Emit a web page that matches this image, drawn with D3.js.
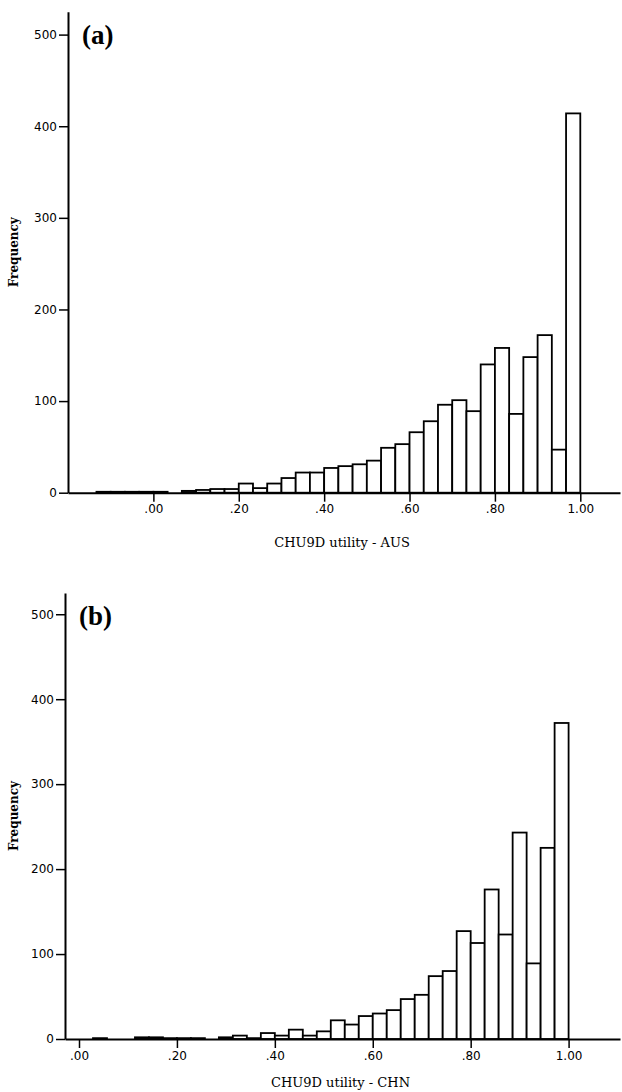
<!DOCTYPE html>
<html>
<head>
<meta charset="utf-8">
<script src="https://cdn.jsdelivr.net/npm/d3@7"></script>
<style>
  body { margin: 0; background: #fff; }
  svg { display: block; }
</style>
</head>
<body>
<div id="wrapper"></div>
<script>
// panel (a) - AUS: bins of width 1/30, first bin starts at -4/30
const ausBinWidth = 1 / 30;
const ausFirstBin = -4 / 30;
const ausCounts = [1, 1, 1, 1, 1, 0, 2, 3, 4, 4, 10, 5, 10, 16, 22, 22, 27, 29, 31, 35,
  49, 53, 66, 78, 96, 101, 89, 140, 158, 86, 148, 172, 47, 414];

// panel (b) - CHN: bins of width 1/35, first bin starts at 0
const chnBinWidth = 1 / 35;
const chnFirstBin = 0;
const chnCounts = [0, 1, 0, 0, 2, 2, 1, 1, 1, 0, 2, 4, 1, 7, 4, 11, 4, 9, 22, 17,
  27, 30, 34, 47, 52, 74, 80, 127, 113, 176, 123, 243, 89, 225, 372];

const xTicks = [0, 0.2, 0.4, 0.6, 0.8, 1.0];
const yTicks = [0, 100, 200, 300, 400, 500];

const width = 622;
const height = 1092;

const svg = d3.select("#wrapper").append("svg")
  .attr("width", width)
  .attr("height", height);

const fmtX = d => d3.format(".2f")(d).replace(/^0/, "");

function drawPanel(opts) {
  const xScale = d3.scaleLinear()
    .domain(opts.xDomain)
    .range([opts.left, opts.right]);
  const yScale = d3.scaleLinear()
    .domain([0, 525])
    .range([opts.bottom, opts.top]);

  const bins = opts.counts.map((c, i) => ({
    x0: opts.firstBin + i * opts.binWidth,
    x1: opts.firstBin + (i + 1) * opts.binWidth,
    count: c,
  })).filter(d => d.count > 0);

  const g = svg.append("g");

  g.selectAll("rect.bar")
    .data(bins)
    .join("rect")
    .attr("class", "bar")
    .attr("x", d => xScale(d.x0))
    .attr("width", d => xScale(d.x1) - xScale(d.x0))
    .attr("y", d => yScale(d.count))
    .attr("height", d => yScale(0) - yScale(d.count))
    .attr("fill", "#fff")
    .attr("stroke", "#000")
    .attr("stroke-width", 1.8);

  const yAxis = g.append("g")
    .attr("transform", `translate(${opts.left},0)`)
    .call(d3.axisLeft(yScale).tickValues(yTicks).tickSize(9).tickSizeOuter(0).tickPadding(2));

  const xAxis = g.append("g")
    .attr("transform", `translate(0,${opts.bottom})`)
    .call(d3.axisBottom(xScale).tickValues(xTicks).tickFormat(fmtX).tickSize(9).tickSizeOuter(0).tickPadding(3));

  [yAxis, xAxis].forEach(ax => {
    ax.select(".domain").attr("stroke-width", 2);
    ax.selectAll(".tick line").attr("stroke-width", 1.5);
    ax.selectAll("text")
      .attr("font-family", "DejaVu Sans, sans-serif")
      .attr("font-size", 12)
      .attr("fill", "#000");
  });

  g.append("text")
    .attr("x", opts.left + 14)
    .attr("y", opts.top + 32)
    .attr("font-family", "Liberation Serif, Times New Roman, serif")
    .attr("font-weight", "bold")
    .attr("font-size", 27)
    .text(opts.tag);

  g.append("text")
    .attr("transform", `translate(${opts.left - opts.yLabelGap},${(opts.top + opts.bottom) / 2}) rotate(-90)`)
    .attr("text-anchor", "middle")
    .attr("font-family", "DejaVu Serif, serif")
    .attr("font-weight", "bold")
    .attr("font-size", 12)
    .text("Frequency");

  g.append("text")
    .attr("x", (opts.left + opts.right) / 2 - 2)
    .attr("y", opts.bottom + opts.xLabelGap)
    .attr("text-anchor", "middle")
    .attr("font-family", "DejaVu Serif, serif")
    .attr("font-size", 13)
    .text(opts.xLabel);
}

drawPanel({
  counts: ausCounts, binWidth: ausBinWidth, firstBin: ausFirstBin,
  xDomain: [-0.2, 1.093], left: 68, right: 620, top: 11.7, bottom: 492.7,
  tag: "(a)", xLabel: "CHU9D utility - AUS", xLabelGap: 54, yLabelGap: 50,
});

drawPanel({
  counts: chnCounts, binWidth: chnBinWidth, firstBin: chnFirstBin,
  xDomain: [-0.0286, 1.105], left: 65, right: 620, top: 593, bottom: 1039,
  tag: "(b)", xLabel: "CHU9D utility - CHN", xLabelGap: 48, yLabelGap: 47,
});
</script>
</body>
</html>
